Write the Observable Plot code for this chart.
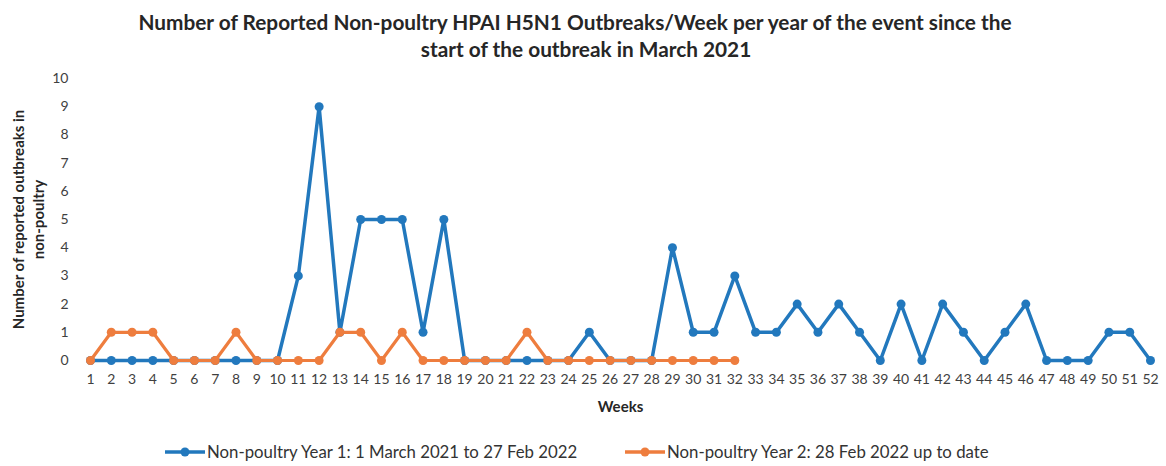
<!DOCTYPE html>
<html>
<head>
<meta charset="utf-8">
<script src="https://cdn.jsdelivr.net/npm/d3@7"></script>
<script src="https://cdn.jsdelivr.net/npm/@observablehq/plot@0.6"></script>
<style>
  html, body { margin: 0; padding: 0; background: #fff; }
  #wrap { position: relative; width: 1166px; height: 466px; overflow: hidden; font-family: Lato, "Open Sans", sans-serif; }
  #title { position: absolute; left: 0; top: 8px; width: 1166px; text-align: center; font-weight: bold; font-size: 20.8px; line-height: 27px; color: #262626; }
  #title div { position: relative; }
  #chart { position: absolute; left: 0; top: 65px; }
  #legend { position: absolute; top: 441px; left: 0; width: 1166px; height: 22px; font-size: 16.8px; color: #333; }
  .item { position: absolute; top: 0; display: flex; align-items: center; white-space: nowrap; }
  .item svg { margin-right: 1px; }
</style>
</head>
<body>
<div id="wrap">
  <div id="title">
    <div style="left:-8px">Number of Reported Non-poultry HPAI H5N1 Outbreaks/Week per year of the event since the</div>
    <div style="left:3px">start of the outbreak in March 2021</div>
  </div>
  <div id="chart"></div>
  <div id="legend"></div>
</div>
<script>
const weeks = [1,2,3,4,5,6,7,8,9,10,11,12,13,14,15,16,17,18,19,20,21,22,23,24,25,26,27,28,29,30,31,32,33,34,35,36,37,38,39,40,41,42,43,44,45,46,47,48,49,50,51,52];
const yTicks = [0,1,2,3,4,5,6,7,8,9,10];
const year1 = [0,0,0,0,0,0,0,0,0,0,3,9,1,5,5,5,1,5,0,0,0,0,0,0,1,0,0,0,4,1,1,3,1,1,2,1,2,1,0,2,0,2,1,0,1,2,0,0,0,1,1,0];
const year2 = [0,1,1,1,0,0,0,1,0,0,0,0,1,1,0,1,0,0,0,0,0,1,0,0,0,0,0,0,0,0,0,0];
const seriesNames = ["Non-poultry Year 1: 1 March 2021 to 27 Feb 2022", "Non-poultry Year 2: 28 Feb 2022 up to date"];
const yLabel = "Number of reported outbreaks in\nnon-poultry";
const xLabel = "Weeks";

const blue = "#2278bd";
const orange = "#ee7d3e";

const d1 = year1.map((v, i) => ({week: weeks[i], value: v}));
const d2 = year2.map((v, i) => ({week: weeks[i], value: v}));

const chart = Plot.plot({
  width: 1166,
  height: 355,
  marginLeft: 90,
  marginRight: 16,
  marginTop: 13,
  marginBottom: 60,
  style: {fontFamily: "Lato, 'Open Sans', sans-serif", fontSize: "14px", color: "#3f3f3f", background: "#fff"},
  x: {type: "linear", domain: [1, 52], ticks: weeks, tickFormat: d => String(d), tickSize: 0, tickPadding: 14, label: null},
  y: {domain: [0, 10], ticks: yTicks, tickFormat: d => String(d), tickSize: 0, tickPadding: 22, label: null},
  marks: [
    Plot.line(d1, {x: "week", y: "value", stroke: blue, strokeWidth: 3.5}),
    Plot.dot(d1, {x: "week", y: "value", r: 4.5, fill: blue, stroke: null}),
    Plot.line(d2, {x: "week", y: "value", stroke: orange, strokeWidth: 3.2}),
    Plot.dot(d2, {x: "week", y: "value", r: 4.5, fill: orange, stroke: null}),
    Plot.text([yLabel], {x: () => 1, y: () => 5, dx: -63, rotate: -90, text: d => d, fontWeight: "bold", fontSize: 15, lineHeight: 1.33, fill: "#262626"}),
    Plot.text([xLabel], {x: () => 26.5, y: () => 0, dy: 47, text: d => d, fontWeight: "bold", fontSize: 15, fill: "#262626"})
  ]
});
document.getElementById("chart").appendChild(chart);

const legend = document.getElementById("legend");
const lx = [164, 624];
[blue, orange].forEach((c, i) => {
  const item = document.createElement("div");
  item.className = "item";
  item.style.left = lx[i] + "px";
  item.innerHTML = `<svg width="42" height="12"><line x1="1" y1="6" x2="41" y2="6" stroke="${c}" stroke-width="3.5"/><circle cx="21" cy="6" r="4.5" fill="${c}"/></svg><span>${seriesNames[i]}</span>`;
  legend.appendChild(item);
});
</script>
</body>
</html>
